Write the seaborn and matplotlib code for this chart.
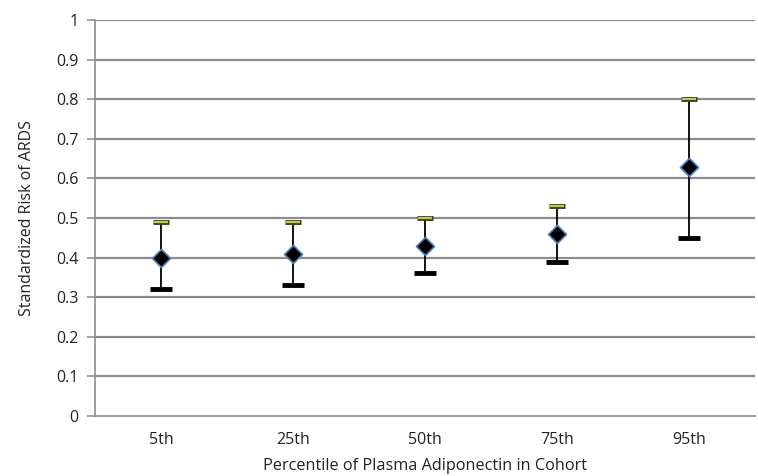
import matplotlib
matplotlib.use("Agg")
import matplotlib.pyplot as plt
import seaborn as sns
import pandas as pd

# Data
percentiles = ["5th", "25th", "50th", "75th", "95th"]
risk = [0.40, 0.41, 0.43, 0.46, 0.63]
upper = [0.49, 0.49, 0.50, 0.53, 0.80]
lower = [0.32, 0.33, 0.36, 0.39, 0.45]


def main():
    df = pd.DataFrame({"Percentile": percentiles, "Risk": risk,
                       "Upper": upper, "Lower": lower})

    sns.set_style("white")
    plt.rcParams["font.family"] = ["Open Sans", "DejaVu Sans"]

    fig = plt.figure(figsize=(7.58, 4.76), dpi=100)
    ax = fig.add_axes([0.1253, 0.126, 0.8707, 0.832])

    # Horizontal gridlines
    for y in [0.1 * i for i in range(1, 11)]:
        ax.axhline(y, color="#8c8c8c", lw=1.6, zorder=0)

    # Error bar stems
    ax.vlines(df["Percentile"], df["Lower"], df["Upper"], color="black", lw=1.3, zorder=2)

    # Lower caps (thick black)
    sns.scatterplot(data=df, x="Percentile", y="Lower", marker="_", s=240,
                    color="black", linewidth=3.5, ax=ax, zorder=3)
    # Upper caps (small yellow-green with dark edge)
    sns.scatterplot(data=df, x="Percentile", y="Upper", marker="_", s=120,
                    color="#3a3a20", linewidth=3.5, ax=ax, zorder=3)
    sns.scatterplot(data=df, x="Percentile", y="Upper", marker="_", s=90,
                    color="#c3c94a", linewidth=1.6, ax=ax, zorder=4)

    # Point estimates
    sns.scatterplot(data=df, x="Percentile", y="Risk", marker="D", s=85,
                    color="black", edgecolor="#4f81bd", linewidth=1.2, ax=ax, zorder=5)

    ax.set_xlim(-0.5, 4.5)
    ax.set_ylim(0, 1)
    ax.set_yticks([0.1 * i for i in range(11)])
    ax.set_yticklabels(["0", "0.1", "0.2", "0.3", "0.4", "0.5", "0.6", "0.7", "0.8", "0.9", "1"])

    for side in ["top", "right"]:
        ax.spines[side].set_visible(False)
    for side in ["left", "bottom"]:
        ax.spines[side].set_color("#8c8c8c")
        ax.spines[side].set_linewidth(1.2)

    ax.tick_params(axis="y", left=True, length=6, width=1.1, color="#8c8c8c",
                   labelsize=11.5, pad=6, labelcolor="#222222")
    ax.tick_params(axis="x", bottom=False, labelsize=11.5, pad=8, labelcolor="#222222")

    ax.set_xlabel("Percentile of Plasma Adiponectin in Cohort", fontsize=11.7,
                  labelpad=7, color="#222222")
    ax.set_ylabel("Standardized Risk of ARDS", fontsize=11.5, labelpad=15, color="#222222")

    fig.savefig("out.png", dpi=100)


if __name__ == "__main__":
    main()
